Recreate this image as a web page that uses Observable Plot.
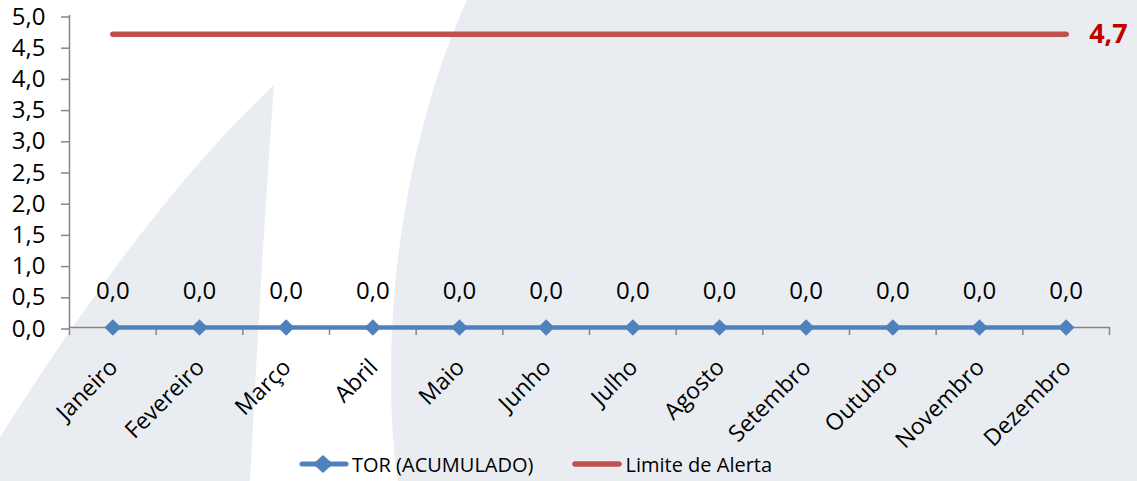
<!DOCTYPE html>
<html>
<head>
<meta charset="utf-8">
<script src="https://cdn.jsdelivr.net/npm/d3@7"></script>
<script src="https://cdn.jsdelivr.net/npm/@observablehq/plot@0.6"></script>
<style>
  body { margin: 0; background: #ffffff; }
  #wrap { position: relative; width: 1137px; height: 481px; overflow: hidden; font-family: "Open Sans", sans-serif; background: #ffffff; }
  #bg { position: absolute; left: 0; top: 0; }
  #chart { position: absolute; left: 0; top: 0; }
  #legend { position: absolute; left: 298px; top: 447px; height: 34px; display: flex; align-items: center; font-size: 20px; color: #000; white-space: nowrap; }
  #legend .item { display: flex; align-items: center; }
  #legend svg { display: block; margin-right: 3px; }
</style>
</head>
<body>
<div id="wrap">
  <svg id="bg" width="1137" height="481">
    <path d="M467,0 C430,80 398,200 392,330 C389,400 393,450 398,481 L1137,481 L1137,0 Z" fill="#e9edf1"/>
    <path d="M274,85 Q150,200 0,437 L0,481 L250,481 Q262,250 274,85 Z" fill="#e9edf1"/>
  </svg>
  <div id="chart"></div>
  <div id="legend"></div>
</div>
<script>
// ---- data ----
const months = ["Janeiro","Fevereiro","Março","Abril","Maio","Junho","Julho","Agosto","Setembro","Outubro","Novembro","Dezembro"];
const torValues = [0,0,0,0,0,0,0,0,0,0,0,0];
const limiteValues = [4.7,4.7,4.7,4.7,4.7,4.7,4.7,4.7,4.7,4.7,4.7,4.7];
const yTicks = [0,0.5,1,1.5,2,2.5,3,3.5,4,4.5,5];
const seriesNames = ["TOR (ACUMULADO)", "Limite de Alerta"];
const seriesColors = ["#4f81bd", "#c0504d"];

// ---- layout ----
const W = 1137, H = 447, mL = 69, mR = 28, mT = 15, mB = 120;
const step = (W - mL - mR) / months.length;
const fmt = v => v.toFixed(1).replace(".", ",");
const tor = months.map((m, i) => ({month: m, value: torValues[i]}));
const lim = months.map((m, i) => ({month: m, value: limiteValues[i]}));
const axisGrey = "#868686";

const chart = Plot.plot({
  width: W, height: H,
  marginLeft: mL, marginRight: mR, marginTop: mT, marginBottom: mB,
  style: {background: "transparent", fontFamily: "'Open Sans', sans-serif", fontSize: "24px", color: "#000", overflow: "visible"},
  x: {type: "point", domain: months, padding: 0.5, round: false, axis: null},
  y: {domain: [0, 5]},
  marks: [
    Plot.axisY(yTicks, {tickSize: 8, tickPadding: 16, tickFormat: fmt, stroke: axisGrey, strokeWidth: 1.5, fill: "#000", fontSize: 24, dy: 1.5, label: null}),
    Plot.ruleX([months[0]], {y1: 0, y2: 5, dx: -step / 2, stroke: axisGrey, strokeWidth: 1.5}),
    Plot.ruleY([0], {stroke: axisGrey, strokeWidth: 1.5}),
    Plot.ruleX(months, {x: d => d, y1: 0, y2: 0, dx: -step / 2, insetBottom: -8, stroke: axisGrey, strokeWidth: 1.5}),
    Plot.ruleX([months[months.length - 1]], {x: d => d, y1: 0, y2: 0, dx: step / 2, insetBottom: -8, stroke: axisGrey, strokeWidth: 1.5}),
    Plot.text(months, {x: d => d, y: 0, text: d => d, rotate: -45, textAnchor: "end", dx: 1, dy: 36, fontSize: 23, fill: "#000"}),
    Plot.line(lim, {x: "month", y: "value", stroke: seriesColors[1], strokeWidth: 5.5, strokeLinecap: "round"}),
    Plot.line(tor, {x: "month", y: "value", stroke: seriesColors[0], strokeWidth: 4.5}),
    Plot.dot(tor, {x: "month", y: "value", symbol: "diamond2", r: 7.5, fill: seriesColors[0], stroke: "none"}),
    Plot.text(tor, {x: "month", y: "value", text: d => fmt(d.value), dy: -36, fontSize: 24, fill: "#000"}),
    Plot.text([lim[lim.length - 1]], {x: "month", y: "value", text: d => fmt(d.value), textAnchor: "start", dx: 23, fontSize: 27, fontWeight: "bold", fill: "#c00000"})
  ]
});
document.getElementById("chart").appendChild(chart);

// ---- legend ----
const legend = document.getElementById("legend");
seriesNames.forEach((name, i) => {
  const item = document.createElement("div");
  item.className = "item";
  if (i > 0) item.style.marginLeft = "38px";
  const marker = i === 0
    ? `<line x1="4" y1="12" x2="48" y2="12" stroke="${seriesColors[0]}" stroke-width="5" stroke-linecap="round"/><path d="M25,3 L35,12 L25,21 L15,12 Z" fill="${seriesColors[0]}"/>`
    : `<line x1="4" y1="12" x2="48" y2="12" stroke="${seriesColors[1]}" stroke-width="5.5" stroke-linecap="round"/>`;
  item.innerHTML = `<svg width="51" height="24">${marker}</svg><span>${name}</span>`;
  legend.appendChild(item);
});
</script>
</body>
</html>
